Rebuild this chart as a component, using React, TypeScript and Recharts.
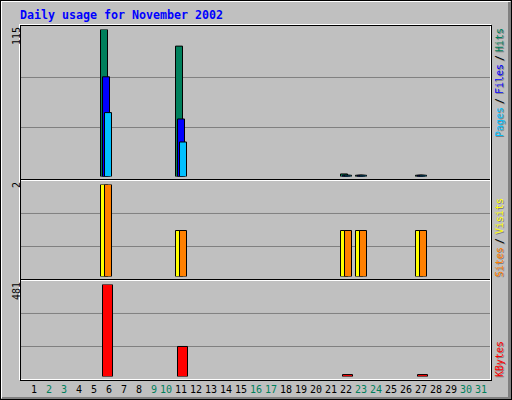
import React from 'react';
import { BarChart, Bar, XAxis, YAxis, ReferenceLine } from 'recharts';

// ---------- data ----------
const TITLE = 'Daily usage for November 2002';
const DAYS = [1, 2, 3, 4, 5, 6, 7, 8, 9, 10, 11, 12, 13, 14, 15, 16, 17, 18, 19, 20, 21, 22, 23, 24, 25, 26, 27, 28, 29, 30, 31];
const WEEKEND_DAYS = [2, 3, 9, 10, 16, 17, 23, 24, 30, 31];

const HITS = [0, 0, 0, 0, 0, 115, 0, 0, 0, 0, 102, 0, 0, 0, 0, 0, 0, 0, 0, 0, 0, 2, 1, 0, 0, 0, 1, 0, 0, 0, 0];
const FILES = [0, 0, 0, 0, 0, 78, 0, 0, 0, 0, 45, 0, 0, 0, 0, 0, 0, 0, 0, 0, 0, 1, 1, 0, 0, 0, 1, 0, 0, 0, 0];
const PAGES = [0, 0, 0, 0, 0, 50, 0, 0, 0, 0, 27, 0, 0, 0, 0, 0, 0, 0, 0, 0, 0, 1, 1, 0, 0, 0, 1, 0, 0, 0, 0];
const VISITS = [0, 0, 0, 0, 0, 2, 0, 0, 0, 0, 1, 0, 0, 0, 0, 0, 0, 0, 0, 0, 0, 1, 1, 0, 0, 0, 1, 0, 0, 0, 0];
const SITES = [0, 0, 0, 0, 0, 2, 0, 0, 0, 0, 1, 0, 0, 0, 0, 0, 0, 0, 0, 0, 0, 1, 1, 0, 0, 0, 1, 0, 0, 0, 0];
const KBYTES = [0, 0, 0, 0, 0, 481, 0, 0, 0, 0, 157, 0, 0, 0, 0, 0, 0, 0, 0, 0, 0, 10, 0, 0, 0, 0, 10, 0, 0, 0, 0];

const data = DAYS.map((day, i) => ({
  day,
  hits: HITS[i],
  files: FILES[i],
  pages: PAGES[i],
  visits: VISITS[i],
  sites: SITES[i],
  kbytes: KBYTES[i],
}));

const HITS_MAX = Math.max(...HITS);
const VISITS_MAX = Math.max(...VISITS, ...SITES);
const KBYTES_MAX = Math.max(...KBYTES);

// ---------- styles ----------
const MONO = '"DejaVu Sans Mono", "Liberation Mono", monospace';
const BG = '#C0C0C0';
const GRID = '#808080';
const SHADOW = '#808080';
const C_HITS = '#00805C';
const C_FILES = '#0000FF';
const C_PAGES = '#00C0FF';
const C_VISITS = '#FFFF00';
const C_SITES = '#FF8000';
const C_KBYTES = '#FF0000';
const C_WEEKEND = '#00805C';
const GRID_TOP = [1 / 3, 0.6735];
const GRID_LOWER = [0.326, 0.685];

const abs: React.CSSProperties = { position: 'absolute', left: 0, top: 0 };

const DayTick = (props: any) => {
  const { x, y, payload } = props;
  const d = Number(payload.value);
  const dx = d < 10 ? 2 : -1;
  return (
    <text
      x={x + dx}
      y={y + 16.5}
      textAnchor="middle"
      fontFamily={MONO}
      fontSize={10}
      fill={WEEKEND_DAYS.includes(d) ? C_WEEKEND : '#000000'}
    >
      {d}
    </text>
  );
};

const UpText = ({ x, y, color, text, anchor = 'start', shadow = false }: any) => (
  <g>
    {shadow && (
      <text
        transform={`translate(${x + 1}, ${y + 1}) rotate(-90)`}
        textAnchor={anchor}
        fontFamily={MONO}
        fontSize={10}
        fill={SHADOW}
      >
        {text}
      </text>
    )}
    <text
      transform={`translate(${x}, ${y}) rotate(-90)`}
      textAnchor={anchor}
      fontFamily={MONO}
      fontSize={10}
      fill={color}
    >
      {text}
    </text>
  </g>
);

const Frame = () => (
  <svg width={512} height={400} style={abs}>
    {/* outer bevel */}
    <rect x={0} y={0} width={512} height={400} fill={BG} />
    <line x1={1} y1={1.5} x2={510} y2={1.5} stroke="#FFFFFF" />
    <line x1={1.5} y1={1} x2={1.5} y2={398} stroke="#FFFFFF" />
    <rect x={2} y={397} width={508} height={2} fill="#808080" />
    <rect x={508} y={2} width={3} height={397} fill="#808080" />
    <rect x={0.5} y={0.5} width={511} height={399} fill="none" stroke="#000000" />
    {/* panel frame */}
    <rect x={19.5} y={24.5} width={471} height={355} fill="none" stroke="#FFFFFF" />
    <rect x={20.5} y={25.5} width={471} height={355} fill="none" stroke="#000000" />
    {/* separators */}
    <line x1={21} y1={179.5} x2={490} y2={179.5} stroke="#000000" />
    <line x1={21} y1={180.5} x2={490} y2={180.5} stroke="#FFFFFF" />
    <line x1={21} y1={279.5} x2={490} y2={279.5} stroke="#000000" />
    <line x1={21} y1={280.5} x2={490} y2={280.5} stroke="#FFFFFF" />
  </svg>
);

const Labels = () => (
  <svg width={512} height={400} style={abs}>
    <text
      x={20}
      y={19}
      fontFamily={MONO}
      fontWeight="bold"
      fontSize={12}
      fill="#0000FF"
      textLength={203}
      lengthAdjust="spacingAndGlyphs"
    >
      {TITLE}
    </text>
    {/* max value labels */}
    <UpText x={19.5} y={27} anchor="end" color="#000000" text={String(HITS_MAX)} />
    <UpText x={19.5} y={182} anchor="end" color="#000000" text={String(VISITS_MAX)} />
    <UpText x={19.5} y={282} anchor="end" color="#000000" text={String(KBYTES_MAX)} />
    {/* legends */}
    <UpText x={503.3} y={137} color={C_PAGES} text="Pages" shadow />
    <UpText x={503.3} y={104} color="#000000" text="/" shadow />
    <UpText x={503.3} y={94} color={C_FILES} text="Files" shadow />
    <UpText x={503.3} y={61} color="#000000" text="/" shadow />
    <UpText x={503.3} y={52} color={C_HITS} text="Hits" shadow />
    <UpText x={503.3} y={277} color={C_SITES} text="Sites" shadow />
    <UpText x={503.3} y={244} color="#000000" text="/" shadow />
    <UpText x={503.3} y={234} color={C_VISITS} text="Visits" shadow />
    <UpText x={503.3} y={377} color={C_KBYTES} text="KBytes" shadow />
  </svg>
);

export default function App() {
  return (
    <div style={{ position: 'absolute', left: 0, top: 0, width: 512, height: 400, background: BG, overflow: 'hidden' }}>
      <Frame />
      {/* Hits / Files / Pages */}
      <div style={abs}>
        <BarChart
          width={512}
          height={400}
          data={data}
          margin={{ top: 29.5, right: 22, bottom: 223.5, left: 21 }}
          barSize={7}
          barGap={-5}
        >
          <XAxis dataKey="day" hide padding={{ left: 2.5, right: 1.5 }} />
          <YAxis hide type="number" domain={[0, HITS_MAX]} allowDataOverflow />
          {GRID_TOP.map((f) => (
            <ReferenceLine key={f} y={HITS_MAX * f} stroke={GRID} strokeWidth={1} zIndex={-100} />
          ))}
          <Bar dataKey="hits" fill={C_HITS} stroke="#000000" strokeWidth={1} isAnimationActive={false} />
          <Bar dataKey="files" fill={C_FILES} stroke="#000000" strokeWidth={1} isAnimationActive={false} />
          <Bar dataKey="pages" fill={C_PAGES} stroke="#000000" strokeWidth={1} isAnimationActive={false} />
        </BarChart>
      </div>
      {/* Visits / Sites */}
      <div style={abs}>
        <BarChart
          width={512}
          height={400}
          data={data}
          margin={{ top: 184.5, right: 22, bottom: 123.5, left: 21 }}
          barSize={7}
          barGap={-3}
        >
          <XAxis dataKey="day" hide padding={{ left: 2.5, right: 1.5 }} />
          <YAxis hide type="number" domain={[0, VISITS_MAX]} allowDataOverflow />
          {GRID_LOWER.map((f) => (
            <ReferenceLine key={f} y={VISITS_MAX * f} stroke={GRID} strokeWidth={1} zIndex={-100} />
          ))}
          <Bar dataKey="visits" fill={C_VISITS} stroke="#000000" strokeWidth={1} isAnimationActive={false} />
          <Bar dataKey="sites" fill={C_SITES} stroke="#000000" strokeWidth={1} isAnimationActive={false} />
        </BarChart>
      </div>
      {/* KBytes */}
      <div style={abs}>
        <BarChart
          width={512}
          height={400}
          data={data}
          margin={{ top: 284.5, right: 22, bottom: 0, left: 21 }}
          barSize={10}
        >
          <XAxis
            dataKey="day"
            height={23.5}
            padding={{ left: 3.5, right: 0.5 }}
            interval={0}
            axisLine={false}
            tickLine={false}
            tickSize={0}
            tickMargin={0}
            tick={<DayTick />}
          />
          <YAxis hide type="number" domain={[0, KBYTES_MAX]} allowDataOverflow />
          {GRID_LOWER.map((f) => (
            <ReferenceLine key={f} y={KBYTES_MAX * f} stroke={GRID} strokeWidth={1} zIndex={-100} />
          ))}
          <Bar dataKey="kbytes" fill={C_KBYTES} stroke="#000000" strokeWidth={1} isAnimationActive={false} />
        </BarChart>
      </div>
      <Labels />
    </div>
  );
}
